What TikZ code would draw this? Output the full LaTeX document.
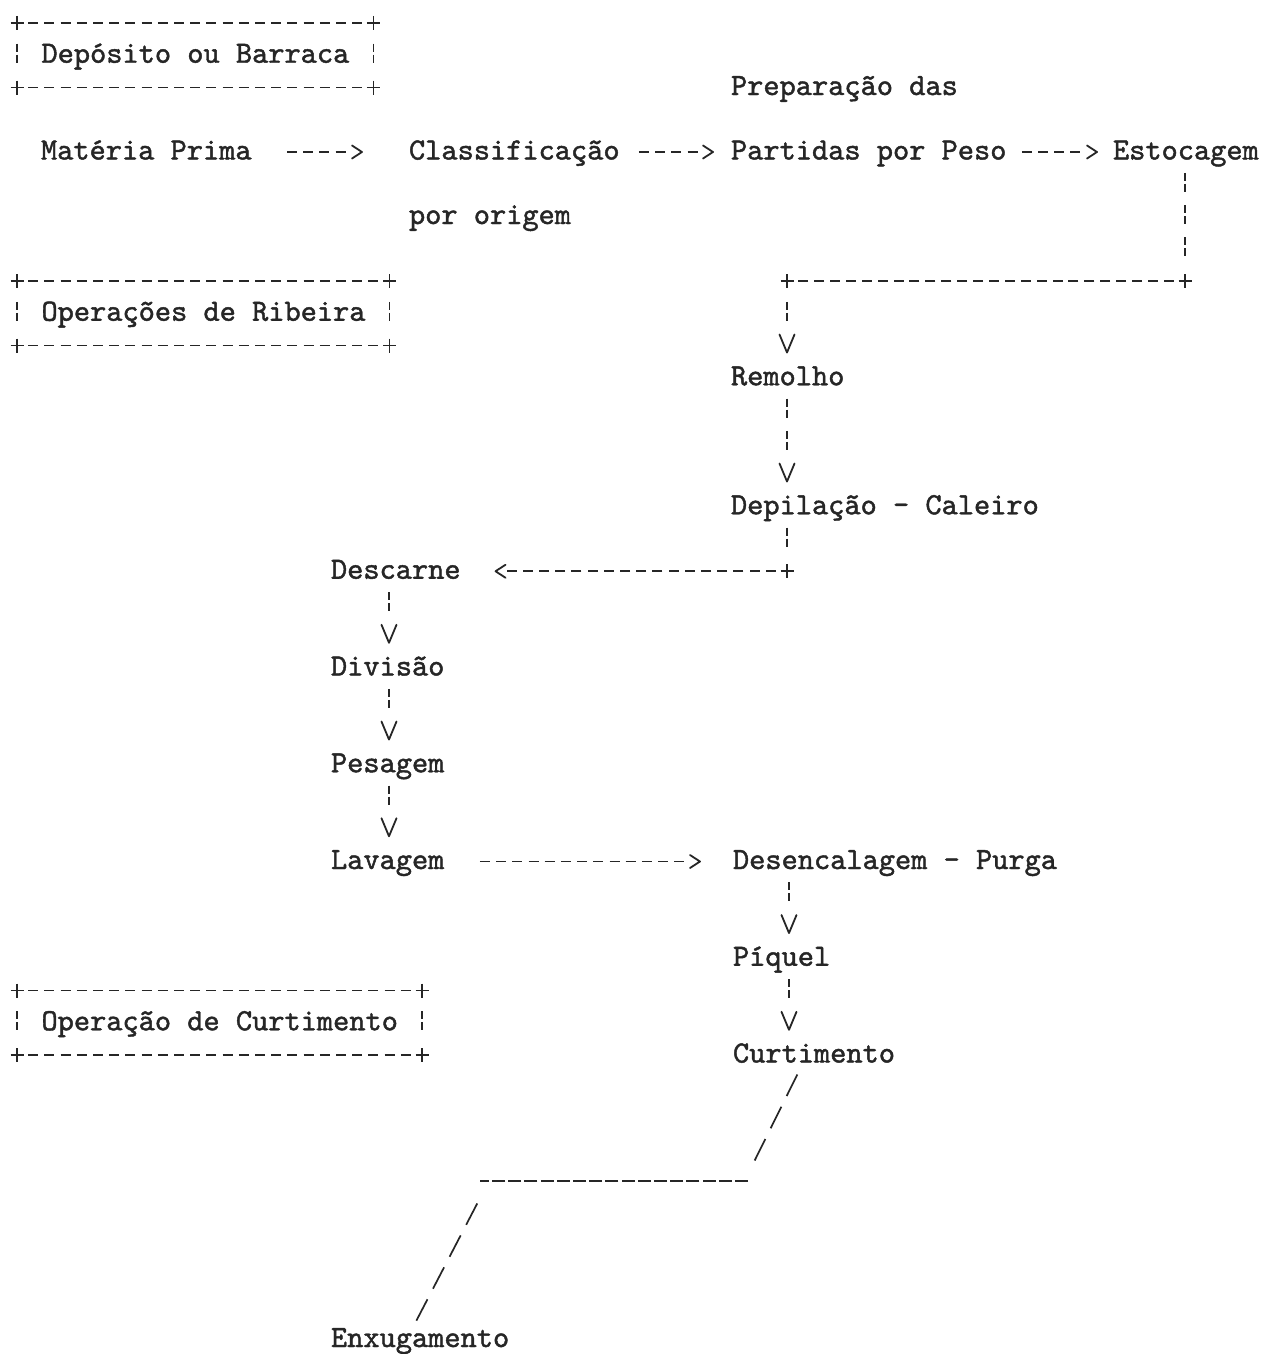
\documentclass[tikz,border=0pt]{standalone}
\usepackage{fontspec}
\setmonofont{lmmono10-regular.otf}[FakeBold=1.4]
\usetikzlibrary{arrows.meta}
\definecolor{ink}{RGB}{38,38,38}
\pgfdeclarearrow{
  name = Vglyph,
  parameters = {\the\pgfarrowlength,\the\pgfarrowwidth},
  setup code = {
    \pgfarrowssettipend{0pt}
    \pgfarrowssetlineend{-1.1\pgfarrowlength}
    \pgfarrowssetbackend{-\pgfarrowlength}
    \pgfarrowssavethe\pgfarrowlength
    \pgfarrowssavethe\pgfarrowwidth
  },
  drawing code = {
    \pgfsetdash{}{0pt}
    \pgfsetlinewidth{1.8pt}
    \pgfsetroundjoin
    \pgfsetroundcap
    \pgfpathmoveto{\pgfpoint{-\pgfarrowlength}{.5\pgfarrowwidth}}
    \pgfpathlineto{\pgfpointorigin}
    \pgfpathlineto{\pgfpoint{-\pgfarrowlength}{-.5\pgfarrowwidth}}
    \pgfusepathqstroke
  },
  defaults = {length = 18pt, width = 15pt}
}
\tikzset{
  lbl/.style={anchor=base west, inner sep=0pt, outer sep=0pt,
    text height=25.625pt, text depth=6.625pt, text=ink,
    font=\fontsize{30.86pt}{32.25pt}\selectfont\ttfamily},
  hyph/.style={draw=ink, line width=1.7pt, dash pattern=on 10pt off 6.2pt},
  hconn/.style={hyph, -{Vglyph[length=10pt,width=13pt]}},
  vbar/.style={draw=ink, line width=1.7pt,
    dash pattern=on 8pt off 3pt on 8pt off 13.25pt, dash phase=25.625pt},
  vconn/.style={vbar, -{Vglyph[length=18pt,width=15pt]}, shorten >=7.1pt},
  cornerv/.style={vbar, shorten <=10pt, shorten >=12pt, dash phase=21.5pt},
  cornerh/.style={hyph, shorten <=11.2pt, shorten >=11.2pt},
  slashc/.style={draw=ink, line width=1.7pt, dash pattern=on 24pt off 12pt, dash phase=30pt},
  underc/.style={draw=ink, line width=1.7pt, dash pattern=on 13pt off 3.2pt},
  plusmark/.pic={\draw[ink, line width=1.7pt, solid] (-6.5,0) -- (6.5,0) (0,-7) -- (0,7);}
}
\begin{document}
\begin{tikzpicture}[x=1pt,y=-1pt]
\fill[white] (0,0) rectangle (1265,1354);
\useasboundingbox (0,0) rectangle (1265,1354);

% ---- text nodes
\node[lbl] (box1) at (41.5,62.75) {Depósito ou Barraca};
\node[lbl] (prep) at (731,95) {Preparação das};
\node[lbl] (mp) at (41,159.5) {Matéria Prima};
\node[lbl] (cls) at (409,159.5) {Classificação};
\node[lbl] (part) at (731,159.5) {Partidas por Peso};
\node[lbl] (esto) at (1113,159.5) {Estocagem};
\node[lbl] (orig) at (409,224) {por origem};
\node[lbl] (box2) at (41.5,320.75) {Operações de Ribeira};
\node[lbl] (rem) at (731,385.25) {Remolho};
\node[lbl] (dep) at (731,514.25) {Depilação - Caleiro};
\node[lbl] (desc) at (331,578.75) {Descarne};
\node[lbl] (div) at (331,675.5) {Divisão};
\node[lbl] (pes) at (331,772.25) {Pesagem};
\node[lbl] (lav) at (331,869) {Lavagem};
\node[lbl] (desen) at (733,869) {Desencalagem - Purga};
\node[lbl] (piq) at (733,965.75) {Píquel};
\node[lbl] (curt) at (733,1062.5) {Curtimento};
\node[lbl] (box3) at (41.5,1030.25) {Operação de Curtimento};
\node[lbl] (enx) at (331,1347) {Enxugamento};

% ---- helper coordinates
\coordinate (xE) at (1185,0);
\coordinate (xR) at (787,0);
\coordinate (xD) at (389,0);
\coordinate (xP) at (789,0);
\coordinate (h4) at (0,152);
\coordinate (h26) at (0,861.5);
\coordinate (kE) at (1185,281);
\coordinate (kR) at (787,281);
\coordinate (kD) at (787,571.25);

% box corners
\coordinate (b1tl) at (17,23);    \coordinate (b1tr) at (373.4,23);
\coordinate (b1bl) at (17,87.5);  \coordinate (b1br) at (373.4,87.5);
\coordinate (b2tl) at (17,281);   \coordinate (b2tr) at (389.6,281);
\coordinate (b2bl) at (17,345.5); \coordinate (b2br) at (389.6,345.5);
\coordinate (b3tl) at (17,990.5); \coordinate (b3tr) at (422,990.5);
\coordinate (b3bl) at (17,1055);  \coordinate (b3br) at (422,1055);

% ---- boxes
\foreach \b in {b1,b2,b3}{
  \draw[cornerh] (\b tl) -- (\b tr);
  \draw[cornerh] (\b bl) -- (\b br);
  \draw[cornerv] (\b tl) -- (\b bl);
  \draw[cornerv] (\b tr) -- (\b br);
  \foreach \c in {tl,tr,bl,br}{ \pic at (\b\c) {plusmark}; }
}

% ---- horizontal arrows
\draw[hconn, shorten <=35.4pt, shorten >=47pt] (mp.east |- h4) -- (cls.west |- h4);
\draw[hconn, shorten <=19.3pt, shorten >=18pt] (cls.east |- h4) -- (part.west |- h4);
\draw[hconn, shorten <=15.4pt, shorten >=16pt] (part.east |- h4) -- (esto.west |- h4);
\draw[hconn, shorten <=35.5pt, shorten >=33pt] (lav.east |- h26) -- (desen.west |- h26);

% ---- Estocagem to Remolho
\draw[vbar, shorten >=12pt] (esto.south -| xE) -- (kE);
\draw[cornerh, dash pattern=on 10pt off 5.896pt] (kE) -- (kR);
\draw[vconn, shorten <=10pt, dash phase=21.5pt] (kR) -- (rem.north -| xR);
\pic at (kE) {plusmark};
\pic at (kR) {plusmark};

% ---- Remolho to Descarne
\draw[vconn] (rem.south -| xR) -- (dep.north -| xR);
\draw[vbar, shorten >=12pt] (dep.south -| xR) -- (kD);
\draw[hconn, shorten <=11.2pt, shorten >=34.9pt] (kD) -- (desc.east |- kD);
\pic at (kD) {plusmark};

% ---- left column
\draw[vconn] (desc.south -| xD) -- (div.north -| xD);
\draw[vconn] (div.south -| xD) -- (pes.north -| xD);
\draw[vconn] (pes.south -| xD) -- (lav.north -| xD);

% ---- right column
\draw[vconn] (desen.south -| xP) -- (piq.north -| xP);
\draw[vconn] (piq.south -| xP) -- (curt.north -| xP);

% ---- Curtimento to Enxugamento
\coordinate (sx1) at (800,0);
\coordinate (s1b) at (752,1165.875);
\coordinate (u1) at (748,1181);
\coordinate (u2) at (480,1181);
\coordinate (s2t) at (480,1198.125);
\coordinate (sx2) at (416,0);
\draw[slashc] (curt.south -| sx1) -- (s1b);
\draw[underc] (u1) -- (u2);
\draw[slashc] (s2t) -- (enx.north -| sx2);
\end{tikzpicture}
\end{document}
